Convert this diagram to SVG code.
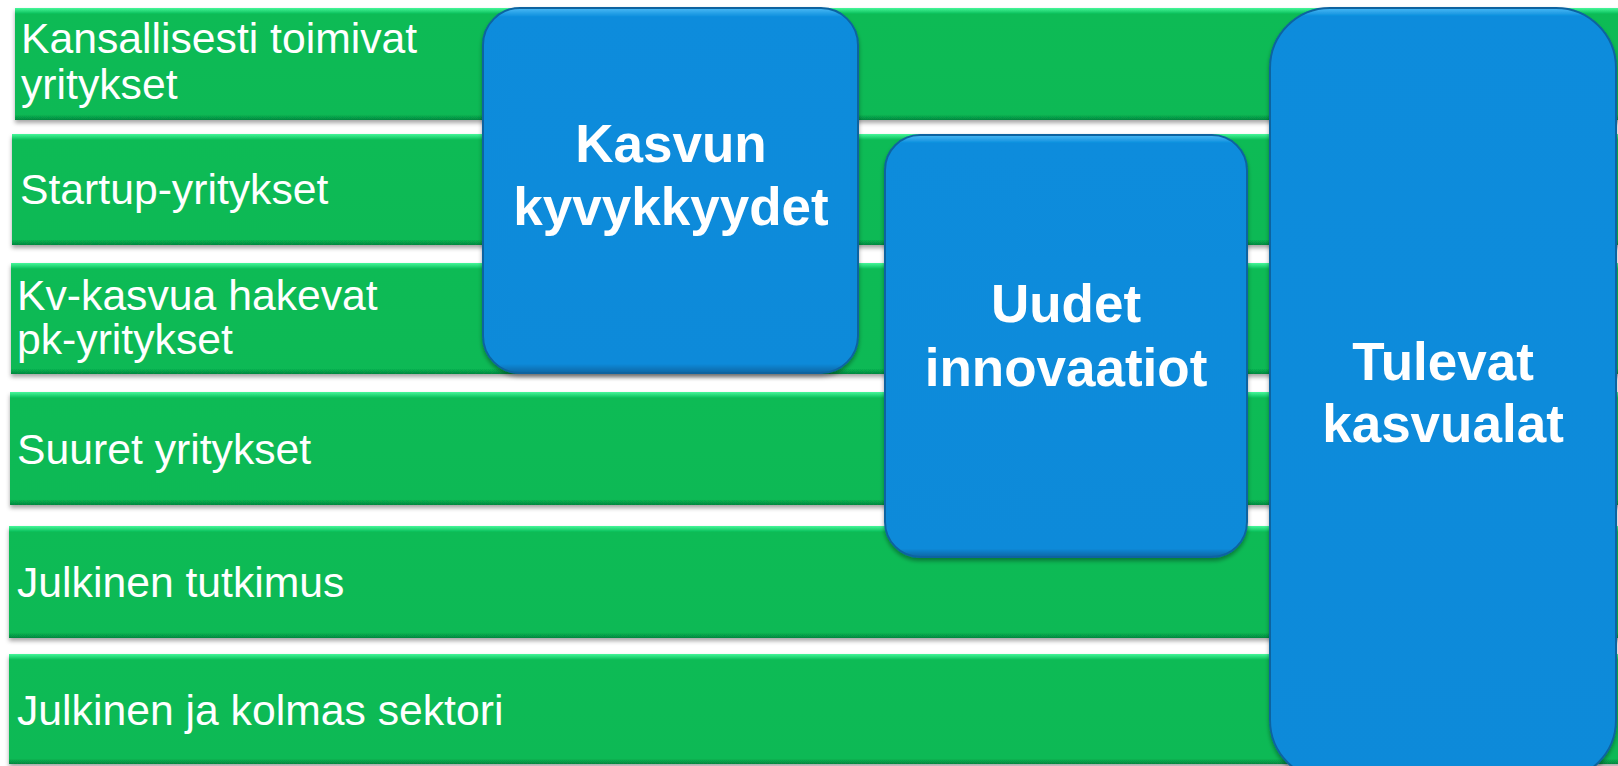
<svg xmlns="http://www.w3.org/2000/svg" width="1618" height="766" viewBox="0 0 1618 766">
  <defs>
    <filter id="shadow" x="-5%" y="-5%" width="110%" height="115%">
      <feDropShadow dx="0" dy="3" stdDeviation="2" flood-color="#000" flood-opacity="0.35"/>
    </filter>
    <linearGradient id="gBar" x1="0" y1="0" x2="0" y2="1">
      <stop offset="0" stop-color="#46f79a"/>
      <stop offset="0.055" stop-color="#07bb55"/>
      <stop offset="0.95" stop-color="#07b954"/>
      <stop offset="1" stop-color="#06873f"/>
    </linearGradient>
    <linearGradient id="gB1" x1="0" y1="0" x2="0" y2="1">
      <stop offset="0" stop-color="#4cbaf5"/>
      <stop offset="0.025" stop-color="#098cdc"/>
      <stop offset="0.975" stop-color="#098ad9"/>
      <stop offset="1" stop-color="#0866a4"/>
    </linearGradient>
    <linearGradient id="gB2" x1="0" y1="0" x2="0" y2="1">
      <stop offset="0" stop-color="#4cbaf5"/>
      <stop offset="0.02" stop-color="#098cdc"/>
      <stop offset="0.98" stop-color="#098ad9"/>
      <stop offset="1" stop-color="#0866a4"/>
    </linearGradient>
    <linearGradient id="gB3" x1="0" y1="0" x2="0" y2="1">
      <stop offset="0" stop-color="#4cbaf5"/>
      <stop offset="0.011" stop-color="#098cdc"/>
      <stop offset="1" stop-color="#098ad9"/>
    </linearGradient>
  </defs>
  <style>
    .bar { fill: url(#gBar); filter: url(#shadow); }
    .box { stroke: #0a64a0; stroke-width: 2; filter: url(#shadow); }
    .lbl { font-family: "Liberation Sans", Arial, sans-serif; font-size: 42.7px; fill: #ffffff; }
    .big { font-family: "Liberation Sans", Arial, sans-serif; font-size: 53px; font-weight: bold; fill: #ffffff; text-anchor: middle; }
  </style>
  <rect width="1618" height="766" fill="#ffffff"/>

  <g id="bar-kansallisesti">
    <rect class="bar" x="15" y="8" width="1615" height="112"/>
    <text class="lbl" x="21" y="53">Kansallisesti toimivat</text>
    <text class="lbl" x="21" y="99">yritykset</text>
  </g>
  <g id="bar-startup">
    <rect class="bar" x="12" y="134" width="1615" height="111"/>
    <text class="lbl" x="20" y="204">Startup-yritykset</text>
  </g>
  <g id="bar-kv-kasvu">
    <rect class="bar" x="11" y="263" width="1615" height="111"/>
    <text class="lbl" x="17" y="310">Kv-kasvua hakevat</text>
    <text class="lbl" x="17" y="354">pk-yritykset</text>
  </g>
  <g id="bar-suuret">
    <rect class="bar" x="10" y="392" width="1615" height="113"/>
    <text class="lbl" x="17" y="464">Suuret yritykset</text>
  </g>
  <g id="bar-tutkimus">
    <rect class="bar" x="9" y="526" width="1615" height="112"/>
    <text class="lbl" x="17" y="597">Julkinen tutkimus</text>
  </g>
  <g id="bar-sektori">
    <rect class="bar" x="9" y="654" width="1615" height="110"/>
    <text class="lbl" x="17" y="725">Julkinen ja kolmas sektori</text>
  </g>

  <g id="box-kasvun">
    <rect class="box" x="483" y="8" width="375" height="365" rx="37" fill="url(#gB1)"/>
    <text class="big" x="671" y="162">Kasvun</text>
    <text class="big" x="671" y="225">kyvykkyydet</text>
  </g>
  <g id="box-uudet">
    <rect class="box" x="885" y="135" width="362" height="422" rx="35" fill="url(#gB2)"/>
    <text class="big" x="1066" y="322">Uudet</text>
    <text class="big" x="1066" y="386">innovaatiot</text>
  </g>
  <g id="box-tulevat">
    <rect class="box" x="1270" y="8" width="346" height="772" rx="60" fill="url(#gB3)"/>
    <text class="big" x="1443" y="380">Tulevat</text>
    <text class="big" x="1443" y="442">kasvualat</text>
  </g>

  <g id="connectors"/>
</svg>
